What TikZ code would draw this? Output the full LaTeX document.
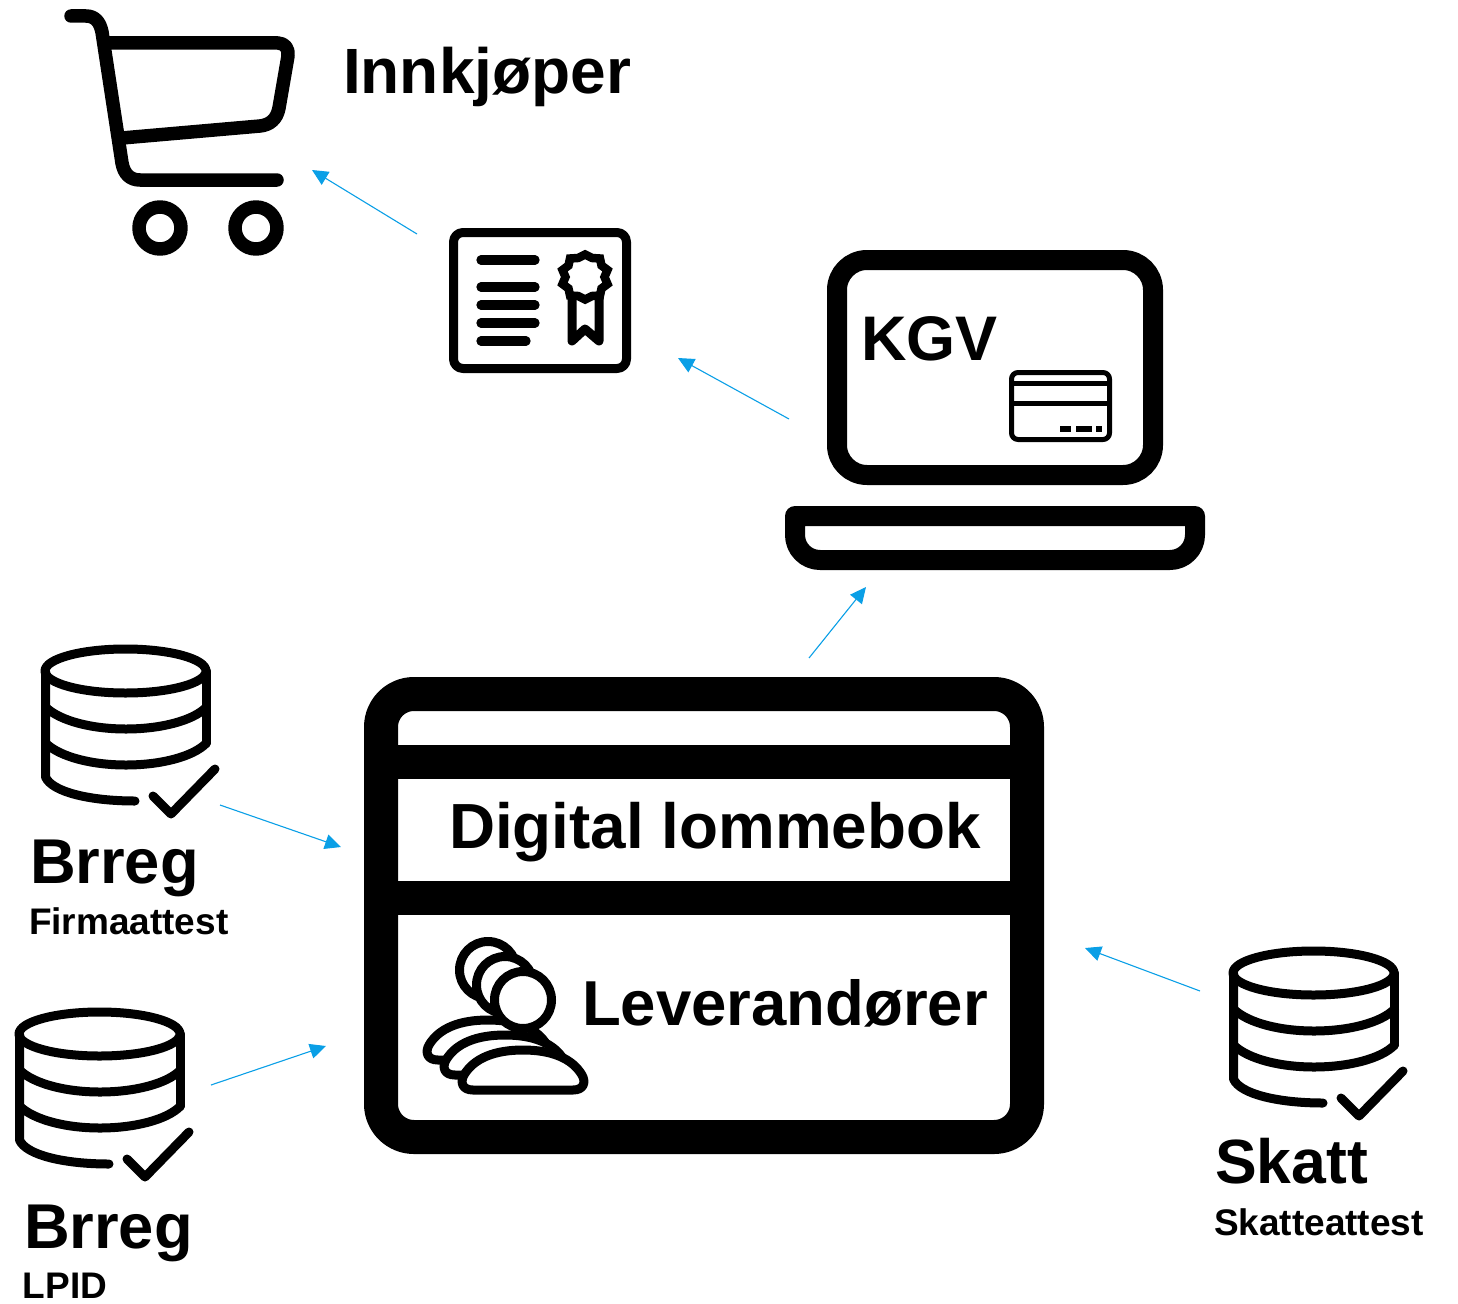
\documentclass[tikz,border=0pt]{standalone}
\usepackage{fontspec}
\setmainfont{Liberation Sans}
\usetikzlibrary{arrows.meta}
\definecolor{arrowblue}{HTML}{0A9FE6}
\tikzset{
  x=1pt,y=-1pt,
  icon/.style={draw=black,line width=#1,line cap=round,line join=round},
  icon/.default=9pt,
  flow/.style={draw=arrowblue,line width=1.1pt,-{Triangle[length=16pt,width=15pt]}},
  lab/.style={anchor=base west,inner sep=0pt,outer sep=0pt,text=black,font=\bfseries\fontsize{#1}{#1}\selectfont},
  dbicon/.pic={
    \draw[icon=9pt] (125.5,671) ellipse [x radius=80.5,y radius=22];
    \draw[icon=9pt] (45.5,671) -- (45.5,777) .. controls (52,792) and (90,801) .. (135,801);
    \draw[icon=9pt] (206.5,671) -- (206.5,743);
    \draw[icon=9pt] (45.5,707) .. controls (60,721) and (92,729) .. (126,729) .. controls (160,729) and (193,721) .. (206.5,707);
    \draw[icon=9pt] (45.5,743) .. controls (60,757) and (92,765) .. (126,765) .. controls (160,765) and (193,757) .. (206.5,743);
    \draw[icon=9pt] (153,796) -- (171,814) -- (215,769);
  },
  personicon/.pic={
    \draw[icon=9pt,fill=white] (523,1000) circle [radius=28.5];
    \draw[icon=9pt,fill=white] (473,1090) .. controls (462,1090) and (460,1082) .. (464,1075) .. controls (474,1058) and (495,1050) .. (523,1050) .. controls (551,1050) and (572,1058) .. (582,1075) .. controls (586,1082) and (584,1090) .. (573,1090) -- cycle;
  },
}
\begin{document}
\begin{tikzpicture}
\useasboundingbox (0,0) rectangle (1458,1303);

% cart
\draw[icon=13.5pt] (71,16) -- (86,16) .. controls (95,16) and (100,22) .. (102,32) -- (122,163) .. controls (124,174) and (130,180) .. (140,180) -- (277,180);
\draw[icon=13.5pt,line cap=butt] (106,43) -- (278,43) .. controls (285,43) and (289,49) .. (288,56) -- (279,108) .. controls (277,119) and (270,125) .. (260,126) -- (122,138);
\draw[icon=13.5pt] (160,228) circle [radius=21];
\draw[icon=13.5pt] (256,228) circle [radius=21];
\node[lab=64] (buyer) at (343,94) {Innkjøper};

% certificate
\draw[icon=9pt] (463,232.5) -- (617,232.5) arc [start angle=-90,end angle=0,radius=9.5] -- (626.5,359) arc [start angle=0,end angle=90,radius=9.5] -- (463,368.5) arc [start angle=90,end angle=180,radius=9.5] -- (453.5,242) arc [start angle=180,end angle=270,radius=9.5] -- cycle;
\foreach \yy/\xx in {260/535,287/535,305/535,323/535,341/526}
  \draw[icon=9.3pt] (481,\yy) -- (\xx,\yy);
\draw[icon=8.5pt,line join=miter] (585,254.5) -- (592,258) -- (600,258.5) -- (601.5,265.5) -- (607.5,270) -- (604.5,277) -- (607.5,284) -- (601.5,288.5) -- (600,295.5) -- (592,296) -- (585,299.5) -- (578,296) -- (570,295.5) -- (568.5,288.5) -- (562.5,284) -- (565.5,277) -- (562.5,270) -- (568.5,265.5) -- (570,258.5) -- (578,258) -- cycle;
\draw[icon=9pt] (572,296) -- (572,341) -- (585,329) -- (599,341) -- (599,296);

% laptop
\draw[icon=20pt] (867,260) -- (1123,260) arc [start angle=-90,end angle=0,radius=30] -- (1153,445) arc [start angle=0,end angle=90,radius=30] -- (867,475) arc [start angle=90,end angle=180,radius=30] -- (837,290) arc [start angle=180,end angle=270,radius=30] -- cycle;
\draw[icon=20pt] (795,516) -- (1195,516) -- (1195,535) arc [start angle=0,end angle=90,radius=25] -- (820,560) arc [start angle=90,end angle=180,radius=25] -- cycle;
\node[lab=63] (kgv) at (861,360) {KGV};
\draw[icon=5pt] (1018,372.5) -- (1103,372.5) arc [start angle=-90,end angle=0,radius=6.5] -- (1109.5,433) arc [start angle=0,end angle=90,radius=6.5] -- (1018,439.5) arc [start angle=90,end angle=180,radius=6.5] -- (1011.5,379) arc [start angle=180,end angle=270,radius=6.5] -- cycle;
\draw[icon=5pt,line cap=butt] (1011.5,383) -- (1109.5,383);
\draw[icon=5pt,line cap=butt] (1011.5,403) -- (1109.5,403);
\fill (1060,426) rectangle (1071,432);
\fill (1076,426) rectangle (1092,432);
\fill (1096,426) rectangle (1102,432);

% wallet
\draw[icon=34pt] (414,694) -- (994,694) arc [start angle=-90,end angle=0,radius=33] -- (1027,1104) arc [start angle=0,end angle=90,radius=33] -- (414,1137) arc [start angle=90,end angle=180,radius=33] -- (381,727) arc [start angle=180,end angle=270,radius=33] -- cycle;
\draw[icon=34pt,line cap=butt] (381,762) -- (1027,762);
\draw[icon=34pt,line cap=butt] (381,898) -- (1027,898);
\node[lab=63.8] (wallet) at (449,848) {Digital lommebok};
\node[lab=63.5] (suppliers) at (582,1025) {Leverandører};

% people
\pic at (-35,-30) {personicon};
\pic at (-18,-15) {personicon};
\pic at (0,0) {personicon};

% databases
\pic at (0,0) {dbicon};
\pic at (-26,363) {dbicon};
\pic at (1188,302) {dbicon};
\node[lab=63.3] (brregA) at (30,883) {Brreg};
\node[lab=37] (firma) at (29,934) {Firmaattest};
\node[lab=63.3] (brregB) at (24,1248) {Brreg};
\node[lab=37] (lpid) at (23,1298) {LPID};
\node[lab=62.5] (skatt) at (1215,1183) {Skatt};
\node[lab=37] (skatte) at (1214,1235) {Skatteattest};

% connectors
\coordinate (a1) at (417,234); \coordinate (a2) at (312,170);
\coordinate (b1) at (789,419); \coordinate (b2) at (678,358);
\coordinate (c1) at (809,658); \coordinate (c2) at (866,587);
\coordinate (d1) at (220,805); \coordinate (d2) at (341,847);
\coordinate (e1) at (211,1085); \coordinate (e2) at (326,1046);
\coordinate (f1) at (1200,991); \coordinate (f2) at (1085,948);
\draw[flow] (a1) -- (a2);
\draw[flow] (b1) -- (b2);
\draw[flow] (c1) -- (c2);
\draw[flow] (d1) -- (d2);
\draw[flow] (e1) -- (e2);
\draw[flow] (f1) -- (f2);
\end{tikzpicture}
\end{document}
